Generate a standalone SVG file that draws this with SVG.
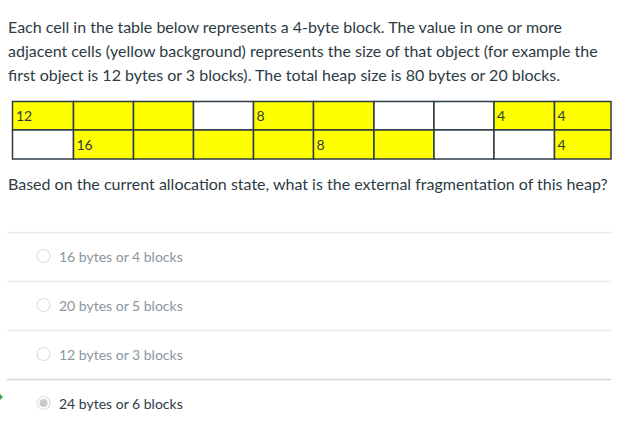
<svg xmlns="http://www.w3.org/2000/svg" width="630" height="441" viewBox="0 0 630 441">
<style>
.p{font-family:Lato,"Noto Sans",sans-serif;font-size:16px;fill:#2d3b45}
.c{font-family:Lato,"Noto Sans",sans-serif;font-size:14px;fill:#2d3b45}
.y{fill:#ffff00;stroke:#2d3b45;stroke-width:1.5}
.w{fill:#ffffff;stroke:#2d3b45;stroke-width:1.5}
.o{font-family:Lato,"Noto Sans",sans-serif;font-size:14px;fill:#8b969e}
.os{font-family:Lato,"Noto Sans",sans-serif;font-size:14px;fill:#2d3b45}
.sep{stroke:#e8eaec;stroke-width:1.5}
.rad{fill:#fff;stroke:#dcdfe2;stroke-width:1.2}
</style>
<rect width="630" height="441" fill="#fff"/>
<g id="intro">
<text class="p" x="8" y="33">Each cell in the table below represents a 4-byte block. The value in one or more</text>
<text class="p" x="8" y="57">adjacent cells (yellow background) represents the size of that object (for example the</text>
<text class="p" x="8" y="81">first object is 12 bytes or 3 blocks). The total heap size is 80 bytes or 20 blocks.</text>
</g>
<g id="table">
<rect class="y" x="12.5" y="101.5" width="61" height="28.5"/>
<rect class="y" x="73.5" y="101.5" width="60" height="28.5"/>
<rect class="y" x="133.5" y="101.5" width="60" height="28.5"/>
<rect class="w" x="193.5" y="101.5" width="60" height="28.5"/>
<rect class="y" x="253.5" y="101.5" width="60" height="28.5"/>
<rect class="y" x="313.5" y="101.5" width="60.5" height="28.5"/>
<rect class="w" x="374" y="101.5" width="60" height="28.5"/>
<rect class="w" x="434" y="101.5" width="60" height="28.5"/>
<rect class="y" x="494" y="101.5" width="60.5" height="28.5"/>
<rect class="y" x="554.5" y="101.5" width="56.5" height="28.5"/>
<rect class="w" x="12.5" y="130" width="61" height="29"/>
<rect class="y" x="73.5" y="130" width="60" height="29"/>
<rect class="y" x="133.5" y="130" width="60" height="29"/>
<rect class="y" x="193.5" y="130" width="60" height="29"/>
<rect class="y" x="253.5" y="130" width="60" height="29"/>
<rect class="y" x="313.5" y="130" width="60.5" height="29"/>
<rect class="y" x="374" y="130" width="60" height="29"/>
<rect class="w" x="434" y="130" width="60" height="29"/>
<rect class="w" x="494" y="130" width="60.5" height="29"/>
<rect class="y" x="554.5" y="130" width="56.5" height="29"/>
<text class="c" x="16" y="120.5">12</text>
<text class="c" x="256.5" y="120.5">8</text>
<text class="c" x="497" y="120.5">4</text>
<text class="c" x="557.5" y="120.5">4</text>
<text class="c" x="76.5" y="149.5">16</text>
<text class="c" x="316.5" y="149.5">8</text>
<text class="c" x="557.5" y="149.5">4</text>
</g>
<g id="question">
<text class="p" x="8" y="190">Based on the current allocation state, what is the external fragmentation of this heap?</text>
</g>
<g id="separators">
<line class="sep" x1="7" y1="232.5" x2="611" y2="232.5"/>
<line class="sep" x1="7" y1="281.5" x2="611" y2="281.5"/>
<line class="sep" x1="7" y1="330.5" x2="611" y2="330.5"/>
<line x1="7" y1="379.5" x2="611" y2="379.5" stroke="#d4d7da" stroke-width="1.5"/>
</g>
<g id="opt1"><circle class="rad" cx="43.5" cy="256" r="6.5"/><text class="o" x="59" y="262">16 bytes or 4 blocks</text></g>
<g id="opt2"><circle class="rad" cx="43.5" cy="305" r="6.5"/><text class="o" x="59" y="311">20 bytes or 5 blocks</text></g>
<g id="opt3"><circle class="rad" cx="43.5" cy="354" r="6.5"/><text class="o" x="59" y="360">12 bytes or 3 blocks</text></g>
<g id="opt4"><circle class="rad" cx="43.5" cy="403" r="6.5"/><circle cx="43.5" cy="403" r="4" fill="#c7cacd"/><text class="os" x="59" y="409">24 bytes or 6 blocks</text></g>
<path d="M0,394 L3,397 L0,400 Z" fill="#3aa14a"/>
</svg>
